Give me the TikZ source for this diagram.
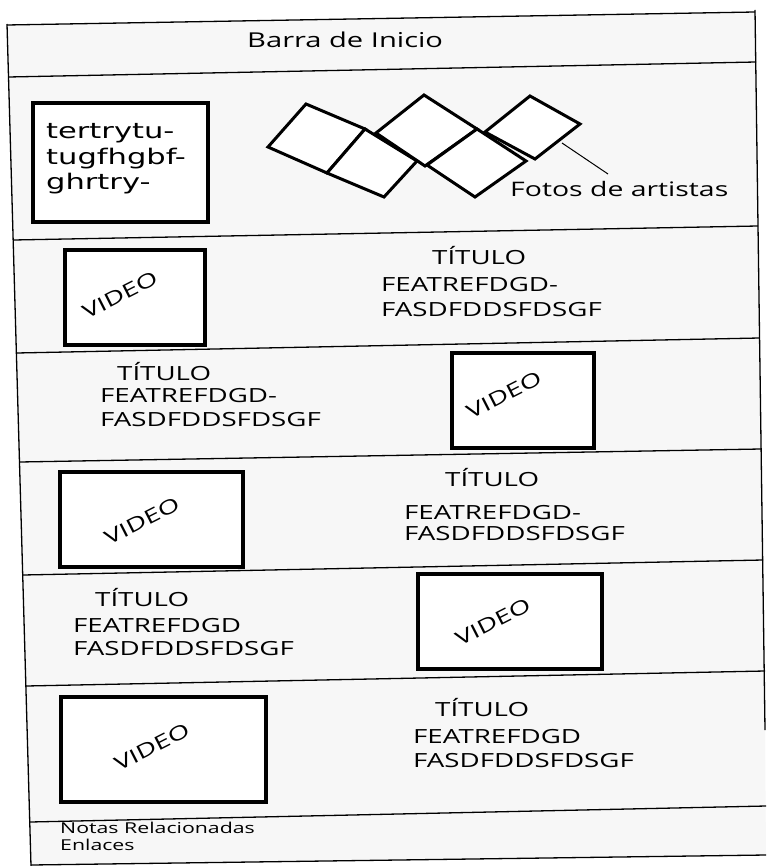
\documentclass[tikz,border=0pt]{standalone}
\usepackage{fontspec}
\setmainfont[FakeStretch=1.42]{Open Sans}
\newfontfamily\boxfont[FakeStretch=1.42]{DejaVu Sans}
\begin{document}
\begin{tikzpicture}[x=1pt,y=-1pt,
  frameline/.style={line width=1.3pt,black},
  vbox/.style={draw=black,line width=3.5pt,fill=white,inner sep=0pt},
  photo/.style={draw=black,line width=3pt,fill=white,line join=miter},
  txt/.style={anchor=base west,inner sep=0pt,font=\fontsize{19.5}{22}\selectfont},
  small/.style={anchor=base west,inner sep=0pt,font=\fontsize{15}{17}\selectfont},
  vid/.style={inner sep=0pt,rotate=27,font=\fontsize{19.5}{21}\selectfont}]
\useasboundingbox (0,0) rectangle (766,866);
\fill[white] (0,0) rectangle (766,866);
% frame corner coordinates
\coordinate (TL) at (7,24);
\coordinate (BL) at (31,866);
\coordinate (TR) at (755,10);
\coordinate (BR) at (765,730);
\coordinate (L0l) at (7,25);    \coordinate (L0r) at (755,12);
\coordinate (L1l) at (8.5,77);  \coordinate (L1r) at (756,62);
\coordinate (L2l) at (13.5,240);\coordinate (L2r) at (758,226);
\coordinate (L3l) at (16.7,353);\coordinate (L3r) at (759.5,338);
\coordinate (L4l) at (19.8,462);\coordinate (L4r) at (761,449);
\coordinate (L5l) at (23,575);  \coordinate (L5r) at (763,560);
\coordinate (L6l) at (26,686);  \coordinate (L6r) at (765,671);
\coordinate (L7l) at (30,822);  \coordinate (L7r) at (766,806);
\coordinate (L8l) at (31,865);  \coordinate (L8r) at (766,855);
% background
\fill[black!3] (L0l) -- (L0r) -- (BR) -- (L8r) -- (L8l) -- cycle;
% frame lines
\draw[frameline] (TL) -- (BL);
\draw[frameline] (TR) -- (BR);
\foreach \i in {0,...,8} {\draw[frameline] (L\i l) -- (L\i r);}
% header
\node[txt,font=\fontsize{20.5}{22}\selectfont] (barra) at (247,48) {Barra de Inicio};
% text box
\draw[line width=4pt,fill=white] (33,103) rectangle (208,222);
\node[anchor=base west,inner sep=0pt,font=\boxfont\fontsize{21.5}{24}\selectfont] (t1) at (46,139) {tertrytu-};
\node[anchor=base west,inner sep=0pt,font=\boxfont\fontsize{21.5}{24}\selectfont] (t2) at (46,165) {tugfhgbf-};
\node[anchor=base west,inner sep=0pt,font=\boxfont\fontsize{21.5}{24}\selectfont] (t3) at (46,190) {ghrtry-};
% photos
\draw[photo] (306,104) -- (365,129) -- (327,173) -- (268,147) -- cycle;
\draw[photo] (424,95) -- (477,129) -- (425,166) -- (376,133) -- cycle;
\draw[photo] (530,96) -- (580,124) -- (535,159) -- (485,132) -- cycle;
\draw[photo] (365,129) -- (417,161) -- (384,197) -- (327,173) -- cycle;
\draw[photo] (477,129) -- (526,161) -- (475,197) -- (427,165) -- cycle;
\coordinate (ptrA) at (562,143);
\coordinate (ptrB) at (608,174);
\draw[line width=1pt] (ptrA) -- (ptrB);
\node[txt,font=\fontsize{20}{22}\selectfont] (fotos) at (510,197) {Fotos de artistas};
% row 1
\node[vbox,minimum width=140pt,minimum height=95pt] (v1) at (135,297.5) {};
\node[vid] (v1t) at (120,295) {VIDEO};
\node[txt] (r1a) at (432,265) {TÍTULO};
\node[txt] (r1b) at (381,291) {FEATREFDGD-};
\node[txt] (r1c) at (381,316) {FASDFDDSFDSGF};
% row 2
\node[txt] (r2a) at (117,380) {TÍTULO};
\node[txt] (r2b) at (100,402) {FEATREFDGD-};
\node[txt] (r2c) at (100,426) {FASDFDDSFDSGF};
\node[vbox,minimum width=142pt,minimum height=95pt] (v2) at (523,400.5) {};
\node[vid] (v2t) at (504,395) {VIDEO};
% row 3
\node[vbox,minimum width=183pt,minimum height=95pt] (v3) at (151.5,519.5) {};
\node[vid] (v3t) at (142,521) {VIDEO};
\node[txt] (r3a) at (445,486) {TÍTULO};
\node[txt] (r3b) at (404,519) {FEATREFDGD-};
\node[txt] (r3c) at (404,540) {FASDFDDSFDSGF};
% row 4
\node[txt] (r4a) at (95,606) {TÍTULO};
\node[txt] (r4b) at (73,632) {FEATREFDGD};
\node[txt] (r4c) at (73,655) {FASDFDDSFDSGF};
\node[vbox,minimum width=184pt,minimum height=95pt] (v4) at (510,621.5) {};
\node[vid] (v4t) at (493,622) {VIDEO};
% row 5
\node[vbox,minimum width=205pt,minimum height=105pt] (v5) at (163.5,749.5) {};
\node[vid] (v5t) at (152,747) {VIDEO};
\node[txt] (r5a) at (435,716) {TÍTULO};
\node[txt] (r5b) at (413,743) {FEATREFDGD};
\node[txt] (r5c) at (413,767) {FASDFDDSFDSGF};
% footer
\node[small] (notas) at (60,833) {Notas Relacionadas};
\node[small] (enl) at (60,850) {Enlaces};
\end{tikzpicture}
\end{document}
